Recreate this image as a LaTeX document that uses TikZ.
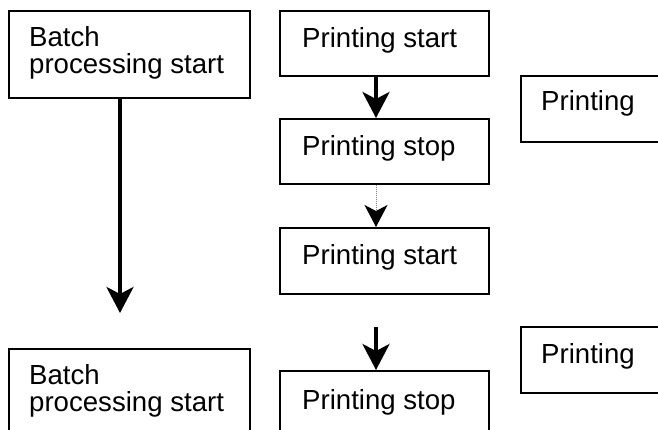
\documentclass[tikz,border=0pt]{standalone}
\usepackage{fontspec}
\setmainfont{Liberation Sans}
\usetikzlibrary{arrows.meta,calc}
\tikzset{
  box/.style={draw=black, line width=1.8pt, rectangle, inner sep=0pt, anchor=north west, fill=white},
  txt/.style={anchor=base west, inner sep=0pt, font=\fontsize{27.6}{27.6}\selectfont, align=left},
  arr/.style={line width=3.6pt, -{Stealth[length=26pt,width=27pt,inset=7pt]}},
  dotarr/.style={line width=1pt, draw=gray, dash pattern=on 1pt off 1pt, -{Stealth[length=22pt,width=23pt,inset=6pt,color=black]}}
}
\begin{document}
\begin{tikzpicture}[x=1pt,y=-1pt]
\useasboundingbox (0,0) rectangle (658,430);
\clip (0,0) rectangle (658,430);
% boxes
\node[box, minimum width=241pt, minimum height=87pt] (b1) at (8,10) {};
\node[box, minimum width=241pt, minimum height=87pt] (b2) at (8,348) {};
\node[box, minimum width=209pt, minimum height=65pt] (ps1) at (279,10) {};
\node[box, minimum width=209pt, minimum height=65pt] (pp1) at (279,118) {};
\node[box, minimum width=209pt, minimum height=66pt] (ps2) at (279,227) {};
\node[box, minimum width=209pt, minimum height=66pt] (pp2) at (279,370) {};
\node[box, minimum width=190pt, minimum height=66pt] (pr1) at (520,75) {};
\node[box, minimum width=190pt, minimum height=66pt] (pr2) at (520,326) {};
% texts
\node[txt] (tb1a) at (29,47) {Batch};
\node[txt] (tb1b) at (29,74) {processing start};
\node[txt] (tb2a) at (29,384) {Batch};
\node[txt] (tb2b) at (29,411) {processing start};
\node[txt] (tps1) at (302,48) {Printing start};
\node[txt] (tpp1) at (302,156) {Printing stop};
\node[txt] (tps2) at (302,265) {Printing start};
\node[txt] (tpp2) at (302,409) {Printing stop};
\node[txt] (tpr1) at (541,111) {Printing};
\node[txt] (tpr2) at (541,363) {Printing};
% connectors
\coordinate (ax) at (120,313);
\coordinate (cx) at (376,0);
\coordinate (a3) at (376,327);
\draw[arr] (b1.south -| ax) -- (ax);
\draw[arr] (ps1.south -| cx) -- (pp1.north -| cx);
\draw[dotarr] (pp1.south -| cx) -- (ps2.north -| cx);
\draw[arr] (a3) -- (pp2.north -| cx);
\end{tikzpicture}
\end{document}
